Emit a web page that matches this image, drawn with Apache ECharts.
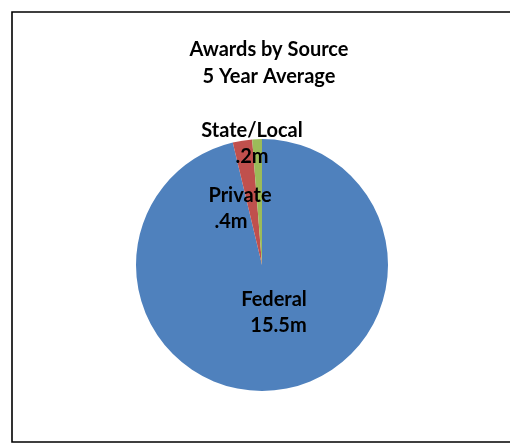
<!DOCTYPE html>
<html>
<head>
<meta charset="utf-8">
<script src="https://cdn.jsdelivr.net/npm/echarts@6/dist/echarts.min.js"></script>
<style>
  html, body { margin: 0; padding: 0; background: #fff; }
  #chart { width: 510px; height: 443px; }
</style>
</head>
<body>
<div id="chart"></div>
<script>
// Award sources, 5-year average (millions)
const sources = ['Federal', 'Private', 'State/Local'];
const awards = [15.5, 0.4, 0.2];
const sliceColors = ['#4F81BD', '#C0504D', '#9BBB59'];

// "15.5m", ".4m", ".2m"
function fmtMillions(v) {
  let s = String(v);
  if (s.startsWith('0.')) s = s.slice(1);
  return s + 'm';
}

// label anchor (centre of the text block) and second-line nudges per slice
const labelSpots = [
  { x: 274, y: 313, pad: [0, 0, 0, 9] },
  { x: 240, y: 209, pad: [0, 18, 0, 0] },
  { x: 252, y: 144, pad: [0, 0, 0, 0] }
];

const FONT = 'Lato, "Open Sans", sans-serif';
const FS = 20;

const chart = echarts.init(document.getElementById('chart'), null, { renderer: 'canvas' });

chart.setOption({
  animation: false,
  backgroundColor: '#ffffff',
  title: {
    text: 'Awards by Source\n5 Year Average',
    left: 264,
    top: 31,
    textAlign: 'center',
    textStyle: {
      fontFamily: FONT,
      fontWeight: 'bold',
      fontSize: FS,
      lineHeight: 27,
      color: '#000'
    }
  },
  graphic: [{
    type: 'rect',
    shape: { x: 12, y: 12, width: 600, height: 430 },
    style: { fill: 'none', stroke: '#000', lineWidth: 1.6 },
    silent: true
  }],
  series: [{
    type: 'pie',
    center: [262, 265],
    radius: [0, 126],
    startAngle: 90,
    clockwise: true,
    avoidLabelOverlap: false,
    itemStyle: { borderWidth: 0 },
    labelLine: { show: false },
    label: {
      show: true,
      position: 'outside',
      color: '#000',
      fontFamily: FONT,
      fontWeight: 'bold',
      fontSize: FS,
      lineHeight: 26,
      align: 'center'
    },
    labelLayout: function (params) {
      const s = labelSpots[params.dataIndex];
      return { x: s.x, y: s.y, align: 'center', verticalAlign: 'middle', hideOverlap: false };
    },
    data: sources.map((name, i) => ({
      name: name,
      value: awards[i],
      itemStyle: { color: sliceColors[i] },
      label: {
        formatter: '{n|' + name + '}\n{v|' + fmtMillions(awards[i]) + '}',
        rich: {
          n: { fontFamily: FONT, fontWeight: 'bold', fontSize: FS, lineHeight: 26, color: '#000' },
          v: { fontFamily: FONT, fontWeight: 'bold', fontSize: FS, lineHeight: 26, color: '#000', padding: labelSpots[i].pad }
        }
      }
    }))
  }]
});
</script>
</body>
</html>
